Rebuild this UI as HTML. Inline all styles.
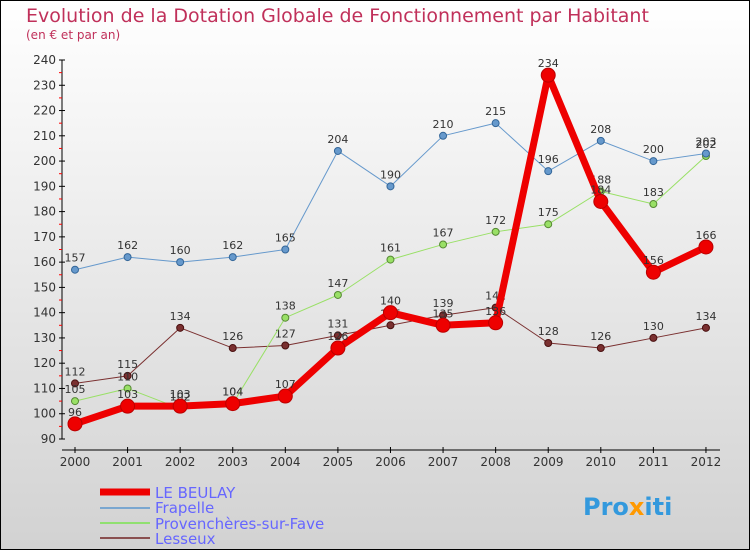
<!DOCTYPE html>
<html><head><meta charset="utf-8"><style>
body{margin:0;width:750px;height:550px;overflow:hidden}
svg text{font-family:"DejaVu Sans","Liberation Sans",sans-serif}
</style></head><body>
<svg id="c" width="750" height="550" xmlns="http://www.w3.org/2000/svg">
<defs><linearGradient id="bg" x1="0" y1="0" x2="0" y2="1"><stop offset="0" stop-color="#ffffff"/><stop offset="1" stop-color="#d2d2d2"/></linearGradient></defs>
<rect x="0.5" y="0.5" width="749" height="549" fill="url(#bg)" stroke="#000"/>
<text x="26" y="22" font-size="19" fill="#c0305a">Evolution de la Dotation Globale de Fonctionnement par Habitant</text>
<text x="26" y="39" font-size="12" fill="#c0305a">(en € et par an)</text>
<g id="axes"></g><g id="series"></g>
<g>
<line x1="100" y1="492" x2="150" y2="492" stroke="#e00" stroke-width="7"/>
<text x="155" y="498" font-size="15" fill="#6666ff">LE BEULAY</text>
<line x1="100" y1="508" x2="150" y2="508" stroke="#7aa7d0" stroke-width="2"/>
<text x="155" y="513" font-size="15" fill="#6666ff">Frapelle</text>
<line x1="100" y1="523" x2="150" y2="523" stroke="#90e070" stroke-width="2"/>
<text x="155" y="529" font-size="15" fill="#6666ff">Provenchères-sur-Fave</text>
<line x1="100" y1="538" x2="150" y2="538" stroke="#8a5050" stroke-width="2"/>
<text x="155" y="544" font-size="15" fill="#6666ff">Lesseux</text>
</g>
<text x="583" y="515" font-size="24" font-weight="bold" fill="#3399dd">Pro<tspan fill="#ff9900">x</tspan>iti</text>
</svg>
<script>
const years=["2000","2001","2002","2003","2004","2005","2006","2007","2008","2009","2010","2011","2012"];
const yTicks=[90,100,110,120,130,140,150,160,170,180,190,200,210,220,230,240];
const beulay=[96,103,103,104,107,126,140,135,136,234,184,156,166];
const frapelle=[157,162,160,162,165,204,190,210,215,196,208,200,203];
const provencheres=[105,110,102,104,138,147,161,167,172,175,188,183,202];
const lesseux=[112,115,134,126,127,131,135,139,142,128,126,130,134];
const NS="http://www.w3.org/2000/svg";
const X=i=>75+i*52.58, Y=v=>439-(v-90)*379/150;
function mk(t,a,p){const e=document.createElementNS(NS,t);for(const k in a)e.setAttribute(k,a[k]);p.appendChild(e);return e;}
const ax=document.getElementById('axes'), sg=document.getElementById('series');
let l=mk('line',{x1:62,y1:60,x2:62,y2:439,stroke:'#000'},ax);


yTicks.forEach(v=>{
  mk('line',{x1:59,y1:Y(v),x2:65,y2:Y(v),stroke:'#000'},ax);
  if(v<240) mk('line',{x1:59,y1:Y(v+5),x2:62,y2:Y(v+5),stroke:'#f00'},ax);
  const t=mk('text',{x:56,y:Y(v)+4,'font-size':12,'text-anchor':'end',fill:'#333'},ax);
  t.textContent=v;
  
  
});
l=mk('line',{x1:62,y1:450,x2:720,y2:450,stroke:'#000'},ax);


years.forEach((y,i)=>{
  mk('line',{x1:X(i),y1:447,x2:X(i),y2:453,stroke:'#000'},ax);
  const t=mk('text',{x:X(i),y:466,'font-size':12,'text-anchor':'middle',fill:'#333'},ax);
  t.textContent=y;
  
  
});
function series(d,col,w,r,name,dark){
  const g=mk('g',{},sg);
  
  
  mk('polyline',{points:d.map((v,i)=>X(i)+','+Y(v)).join(' '),fill:'none',stroke:col,'stroke-width':w,'stroke-linejoin':'round'},g);
  d.forEach((v,i)=>{
    const c=mk('circle',{cx:X(i),cy:Y(v),r:r,fill:col,stroke:dark,'stroke-width':1},g);
    
    
    const t=mk('text',{x:X(i),y:Y(v)-8,'font-size':11,'text-anchor':'middle',fill:'#333'},g);
    t.textContent=v;
    
    
  });
}
series(lesseux,'#7a3030',1,3.5,'lesseux','#4a1010');
series(provencheres,'#99e066',1,3.5,'provencheres','#558833');
series(frapelle,'#6699cc',1,3.5,'frapelle','#336699');
series(beulay,'#ee0000',7,7,'le-beulay','#bb0000');
</script>
</body></html>
